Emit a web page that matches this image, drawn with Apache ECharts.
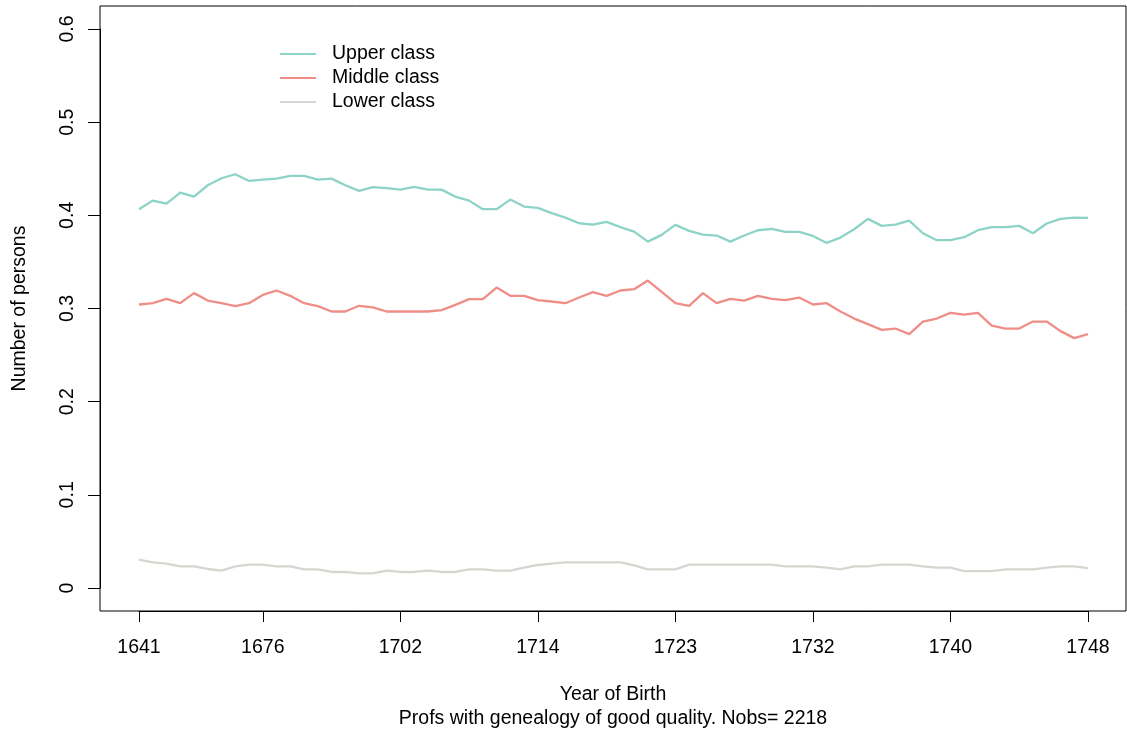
<!DOCTYPE html>
<html>
<head>
<meta charset="utf-8">
<script src="https://cdn.jsdelivr.net/npm/echarts@6/dist/echarts.min.js"></script>
<style>
  html, body { margin: 0; padding: 0; background: #fff; }
  #chart { width: 1127px; height: 734px; }
</style>
</head>
<body>
<div id="chart"></div>
<script>
// Share of professors by social class, per birth cohort window (70 windows)
const seriesNames = ['Upper class', 'Middle class', 'Lower class'];

const upperClass = [
  0.4066, 0.4158, 0.4126, 0.4244, 0.4201, 0.4323, 0.4398, 0.4441, 0.4369, 0.4383,
  0.4394, 0.4423, 0.4423, 0.4383, 0.4394, 0.4323, 0.4262, 0.4302, 0.4291, 0.4276,
  0.4305, 0.4276, 0.4276, 0.4201, 0.4158, 0.4066, 0.4066, 0.4169, 0.4094, 0.4080,
  0.4023, 0.3976, 0.3915, 0.3901, 0.3929, 0.3873, 0.3825, 0.3718, 0.3790, 0.3897,
  0.3833, 0.3793, 0.3783, 0.3718, 0.3783, 0.3840, 0.3854, 0.3822, 0.3822, 0.3779,
  0.3704, 0.3761, 0.3851, 0.3962, 0.3887, 0.3901, 0.3944, 0.3808, 0.3733, 0.3733,
  0.3765, 0.3840, 0.3873, 0.3873, 0.3887, 0.3808, 0.3912, 0.3962, 0.3976, 0.3972
];

const middleClass = [
  0.3043, 0.3057, 0.3103, 0.3057, 0.3165, 0.3085, 0.3057, 0.3025, 0.3057, 0.3146,
  0.3193, 0.3136, 0.3057, 0.3025, 0.2968, 0.2968, 0.3029, 0.3011, 0.2968, 0.2968,
  0.2968, 0.2968, 0.2982, 0.3039, 0.3100, 0.3100, 0.3225, 0.3136, 0.3136, 0.3089,
  0.3075, 0.3057, 0.3118, 0.3175, 0.3136, 0.3193, 0.3207, 0.3300, 0.3179, 0.3057,
  0.3029, 0.3165, 0.3057, 0.3103, 0.3085, 0.3136, 0.3103, 0.3089, 0.3118, 0.3043,
  0.3057, 0.2968, 0.2892, 0.2832, 0.2771, 0.2785, 0.2725, 0.2860, 0.2892, 0.2953,
  0.2935, 0.2953, 0.2817, 0.2785, 0.2785, 0.2860, 0.2860, 0.2757, 0.2682, 0.2725
];

const lowerClass = [
  0.0304, 0.0275, 0.0261, 0.0232, 0.0232, 0.0204, 0.0186, 0.0232, 0.0250, 0.0250,
  0.0232, 0.0232, 0.0200, 0.0200, 0.0172, 0.0172, 0.0157, 0.0157, 0.0186, 0.0172,
  0.0172, 0.0186, 0.0172, 0.0172, 0.0200, 0.0200, 0.0186, 0.0186, 0.0218, 0.0247,
  0.0261, 0.0275, 0.0275, 0.0275, 0.0275, 0.0275, 0.0243, 0.0200, 0.0200, 0.0200,
  0.0250, 0.0250, 0.0250, 0.0250, 0.0250, 0.0250, 0.0250, 0.0232, 0.0232, 0.0232,
  0.0218, 0.0200, 0.0232, 0.0232, 0.0250, 0.0250, 0.0250, 0.0232, 0.0218, 0.0218,
  0.0182, 0.0182, 0.0182, 0.0200, 0.0200, 0.0200, 0.0218, 0.0232, 0.0232, 0.0214
];

// Cohort window numbers (1..70) and the birth years printed at selected windows
const windowIndex = upperClass.map((_, i) => String(i + 1));
const tickWindows = [1, 10, 20, 30, 40, 50, 60, 70];
const tickLabels = ['1641', '1676', '1702', '1714', '1723', '1732', '1740', '1748'];
const yTickStep = 0.1;

const colors = ['#8DD3C7', '#EF8D87', '#D6D6D0'];
const FONT = '"Liberation Sans", Arial, Helvetica, sans-serif';
const FS = 19.5;

const isTick = (idx) => tickWindows.indexOf(idx + 1) !== -1;

const chart = echarts.init(document.getElementById('chart'), null, { renderer: 'canvas' });

chart.setOption({
  animation: false,
  backgroundColor: '#ffffff',
  textStyle: { fontFamily: FONT },
  title: [
    {
      text: 'Year of Birth',
      left: 608, top: 680, textAlign: 'center',
      textStyle: { fontFamily: FONT, fontSize: FS, fontWeight: 'normal', color: '#000' }
    },
    {
      text: 'Profs with genealogy of good quality. Nobs= 2218',
      left: 608, top: 704, textAlign: 'center',
      textStyle: { fontFamily: FONT, fontSize: FS, fontWeight: 'normal', color: '#000' }
    }
  ],
  legend: {
    orient: 'vertical',
    left: 275, top: 39,
    itemWidth: 36, itemHeight: 14, itemGap: 4,
    data: seriesNames.map((n, i) => ({
      name: n,
      icon: 'path://M0,6L36,6L36,8L0,8Z',
      itemStyle: { color: colors[i] }
    })),
    textStyle: { fontFamily: FONT, fontSize: FS, color: '#000', padding: [0, 0, 0, 11] }
  },
  grid: [
    // frame box
    { left: 100, top: 6, width: 1026, height: 605, show: true, borderColor: '#000', borderWidth: 1, backgroundColor: 'transparent' },
    // data area (windows 1..70, shares 0..0.6)
    { left: 139, top: 29, width: 949, height: 559 },
    // x axis drawn along the bottom of the frame
    { left: 139, top: 29, width: 949, height: 582 },
    // y axis drawn along the left of the frame
    { left: 100, top: 29, width: 988, height: 559 }
  ],
  xAxis: [
    { gridIndex: 0, type: 'value', show: false, min: 0, max: 1 },
    { gridIndex: 1, type: 'category', data: windowIndex, boundaryGap: false, show: false },
    {
      gridIndex: 2,
      type: 'category',
      data: windowIndex,
      boundaryGap: false,
      axisLine: { show: true, lineStyle: { color: '#000', width: 1 } },
      axisTick: { show: true, length: 11, interval: (idx) => isTick(idx), lineStyle: { color: '#000', width: 1 } },
      axisLabel: {
        interval: (idx) => isTick(idx),
        formatter: (val, idx) => tickLabels[tickWindows.indexOf(idx + 1)],
        margin: 27,
        fontFamily: FONT, fontSize: FS, color: '#000'
      },
      splitLine: { show: false }
    },
    { gridIndex: 3, type: 'value', show: false, min: 0, max: 1 }
  ],
  yAxis: [
    { gridIndex: 0, type: 'value', show: false, min: 0, max: 1 },
    { gridIndex: 1, type: 'value', min: 0, max: 0.6, interval: yTickStep, show: false },
    { gridIndex: 2, type: 'value', show: false, min: 0, max: 1 },
    {
      gridIndex: 3,
      type: 'value',
      min: 0, max: 0.6, interval: yTickStep,
      name: 'Number of persons',
      nameLocation: 'middle',
      nameRotate: 90,
      nameGap: 70,
      nameTextStyle: { fontFamily: FONT, fontSize: FS, color: '#000' },
      axisLine: { show: true, lineStyle: { color: '#000', width: 1 } },
      axisTick: { show: true, length: 12, lineStyle: { color: '#000', width: 1 } },
      axisLabel: {
        rotate: 90,
        margin: 22,
        fontFamily: FONT, fontSize: FS, color: '#000'
      },
      splitLine: { show: false }
    }
  ],
  series: [
    { name: seriesNames[0], data: upperClass },
    { name: seriesNames[1], data: middleClass },
    { name: seriesNames[2], data: lowerClass }
  ].map((s, i) => ({
    name: s.name,
    type: 'line',
    xAxisIndex: 1,
    yAxisIndex: 1,
    data: s.data,
    symbol: 'none',
    showSymbol: false,
    smooth: false,
    color: colors[i],
    lineStyle: { color: colors[i], width: 2.3 },
    z: 3 - i
  }))
});
</script>
</body>
</html>
